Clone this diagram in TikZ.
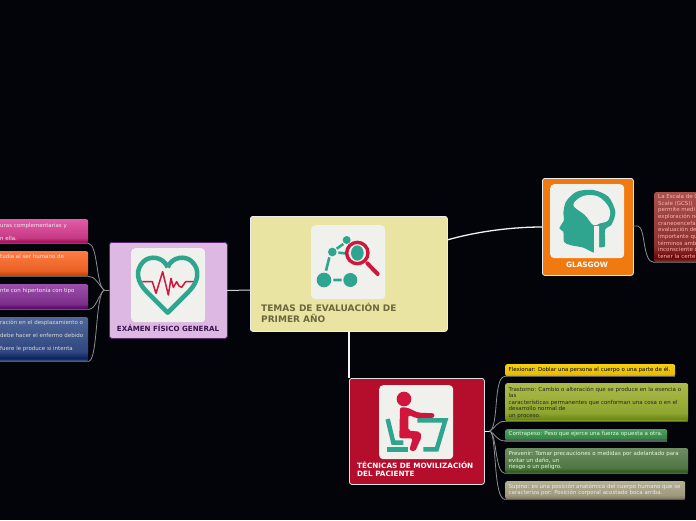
\documentclass[tikz,border=0pt]{standalone}
\usepackage{fontspec}
\setmainfont{DejaVu Sans}
\definecolor{bgc}{HTML}{030409}
\definecolor{teal1}{HTML}{2FA58F}
\definecolor{red1}{HTML}{D0163C}
\definecolor{iconbg}{HTML}{F0F0EC}
\definecolor{wire}{HTML}{8E8E8E}
\definecolor{rulec}{HTML}{5C5C5C}
\definecolor{cfill}{HTML}{E9E4A1}
\definecolor{gfill}{HTML}{F07A0F}
\definecolor{tfill}{HTML}{B50D2C}
\definecolor{efill}{HTML}{DCB8E3}
\definecolor{edraw}{HTML}{5A286E}
\definecolor{ctext}{HTML}{6B6840}
\definecolor{etext}{HTML}{3A1450}
\newcommand\mkshade[4]{%
  \pgfdeclareverticalshading{#1}{100bp}{color(0bp)=(#4); color(25bp)=(#4); color(28bp)=(#3); color(36bp)=(#2!55!#3); color(75bp)=(#2); color(100bp)=(#2)}}
\definecolor{pa}{HTML}{E25CA6}\definecolor{pb}{HTML}{A3105C}\definecolor{pc}{HTML}{C9458F}
\definecolor{oa}{HTML}{FF7C42}\definecolor{ob}{HTML}{CF4000}\definecolor{oc}{HTML}{E9692E}
\definecolor{ua}{HTML}{9C4FAB}\definecolor{ub}{HTML}{5A0868}\definecolor{uc}{HTML}{7A2E88}
\definecolor{ba}{HTML}{50679A}\definecolor{bb}{HTML}{0A205F}\definecolor{bc}{HTML}{5A6C8C}
\definecolor{ya}{HTML}{F5CF10}\definecolor{yb}{HTML}{D8A800}\definecolor{yc}{HTML}{E8C428}
\definecolor{ga}{HTML}{ACBC48}\definecolor{gb}{HTML}{6C8A14}\definecolor{gc}{HTML}{98AC40}
\definecolor{ca}{HTML}{4F9F60}\definecolor{cb}{HTML}{146C2C}\definecolor{cc}{HTML}{3E8A50}
\definecolor{ra}{HTML}{6F8C62}\definecolor{rb}{HTML}{2C5A1E}\definecolor{rc}{HTML}{5B7C50}
\definecolor{sa}{HTML}{B5AF95}\definecolor{sb}{HTML}{847D62}\definecolor{sc}{HTML}{A09A80}
\definecolor{da}{HTML}{A8524E}\definecolor{db}{HTML}{6A0606}\definecolor{dc}{HTML}{8A3E3A}
\mkshade{spink}{pa}{pb}{pc}\mkshade{sorange}{oa}{ob}{oc}\mkshade{spurple}{ua}{ub}{uc}
\mkshade{sblue}{ba}{bb}{bc}\mkshade{syellow}{ya}{yb}{yc}\mkshade{sgreen}{ga}{gb}{gc}
\mkshade{scontra}{ca}{cb}{cc}\mkshade{sprev}{ra}{rb}{rc}\mkshade{ssup}{sa}{sb}{sc}
\mkshade{sdark}{da}{db}{dc}
\newcommand\cbox[4]{\parbox[c][#2pt][t]{#1pt}{\vspace*{#3pt}\raggedright #4}}
\tikzset{
  x=1pt,y=-1pt,
  mainbox/.style={draw=#1,line width=.8pt,rounded corners=2.5pt,anchor=north west,inner sep=0pt},
  iconbox/.style={fill=iconbg,rounded corners=4pt,anchor=north west,minimum width=74pt,minimum height=74pt,inner sep=0pt},
  title/.style={font=\fontsize{7.1}{9}\selectfont\bfseries,inner sep=0pt},
  leaf/.style={shading=#1,draw=none,rounded corners=2pt,anchor=north west,inner ysep=0pt,inner xsep=3.5pt,
     font=\fontsize{5.5}{6.5}\selectfont},
  lfar/.style={shading=#1,draw=none,rounded corners=2pt,anchor=north west,inner ysep=0pt,inner xsep=3pt,
     font=\fontsize{5.5}{13}\selectfont,text=white!85!gray},
  wirel/.style={draw=wire,line width=.8pt,line cap=round},
  rulel/.style={draw=rulec,line width=1.2pt},
  trunk/.style={draw=white!90!gray,line width=1.3pt},
}
\begin{document}
\begin{tikzpicture}
\useasboundingbox (0,0) rectangle (696,520);
\fill[bgc] (0,0) rectangle (696,520);
\clip (0,0) rectangle (696,520);

% main boxes
\node[mainbox=white!85!gray,fill=cfill,minimum width=197pt,minimum height=115pt] (central) at (250,216) {};
\node[mainbox=white!85!gray,fill=gfill,minimum width=91pt,minimum height=97pt] (glasgow) at (542,178) {};
\node[mainbox=white!75!gray,fill=tfill,minimum width=135pt,minimum height=106pt] (tecnicas) at (349,378) {};
\node[mainbox=edraw,fill=efill,minimum width=118pt,minimum height=96pt] (examen) at (109,242) {};

% left leaves
\node[lfar=spink] (l1) at (-3,219) {\cbox{85}{24}{4}{uras complementarias y\\n ella.}};
\node[lfar=sorange] (l2) at (-3,251) {\cbox{85}{25}{3.5}{tudia al ser humano de}};
\node[lfar=spurple] (l3) at (-3,284) {\cbox{85}{25}{3.5}{nte con hipertonía con tipo}};
\node[lfar=sblue,text=white!70!gray] (l4) at (-3,317) {\cbox{85}{44}{3}{ración en el desplazamiento o\\ debe hacer el enfermo debido\\ fuere le produce si intenta}};

% right leaves
\node[leaf=syellow,text=black] (r1) at (505,364) {\cbox{163}{12}{2.8}{Flexionar: Doblar una persona el cuerpo o una parte de él.}};
\node[leaf=sgreen,text=black!85] (r2) at (505,383) {\cbox{176}{38}{3.8}{Trastorno: Cambio o alteración que se produce en la esencia o\\las\\características permanentes que conforman una cosa o en el\\desarrollo normal de\\un proceso.}};
\node[leaf=scontra,text=white!85!green] (r3) at (505,429) {\cbox{155}{11.5}{2.4}{Contrapeso: Peso que ejerce una fuerza opuesta a otra.}};
\node[leaf=sprev,text=white!85!green] (r4) at (505,448) {\cbox{176}{25}{3.4}{Prevenir: Tomar precauciones o medidas por adelantado para\\evitar un daño, un\\riesgo o un peligro.}};
\node[leaf=ssup,text=white!85!gray] (r5) at (505,481) {\cbox{173}{18}{2.8}{Supino: es una posición anatómica del cuerpo humano que se\\caracteriza por: Posición corporal acostado boca arriba.}};

% Glasgow leaf
\node[leaf=sdark,text=white!70!red,inner xsep=4pt,font=\fontsize{5.5}{6.67}\selectfont] (g1) at (654,192) {\cbox{60}{70}{2}{La Escala de G\\Scale (GCS))\\permite medi\\exploración ne\\craneoencefáli\\evaluación de\\importante qu\\términos amb\\inconsciente c\\tener la certe}};

% bottom rules of the leaves
\draw[rulel] (l1.south west) -- (l1.south east);
\draw[rulel] (l2.south west) -- (l2.south east);
\draw[rulel] (l3.south west) -- (l3.south east);
\draw[rulel] (l4.south west) -- (l4.south east);
\draw[rulel] (r1.south west) -- (r1.south east);
\draw[rulel] (r2.south west) -- (r2.south east);
\draw[rulel] (r3.south west) -- (r3.south east);
\draw[rulel] (r4.south west) -- (r4.south east);
\draw[rulel] (r5.south west) -- (r5.south east);
\draw[rulel] (g1.south west) -- (g1.south east);

% trunk connectors
\coordinate (cL) at (250,290);
\coordinate (eR) at (227,290.5);
\draw[line width=1pt,draw=white!65!gray] (cL) -- (eR);
\coordinate (cR) at (447,240);
\coordinate (gL) at (542,227);
\draw[trunk] (cR) .. controls (475,232) and (510,227) .. (gL);
\coordinate (cB) at (349,331);
\coordinate (tT) at (349,378);
\draw[trunk] (cB) -- (tT);
\coordinate (gR) at (633,226);
\coordinate (gJ) at (638,226);
\draw[wirel] (gR) -- (gJ) .. controls (646,228) and (642,262) .. (g1.south west);

% examen fan-out
\coordinate (eL) at (109,290);
\coordinate (eJ) at (104,290);
\draw[wirel] (eL) -- (eJ);
\draw[wirel] (eJ) .. controls (96,285) and (98,244) .. (l1.south east);
\draw[wirel] (eJ) .. controls (98,284) and (95,276) .. (l2.south east);
\draw[wirel] (eJ) .. controls (98,296) and (96,309) .. (l3.south east);
\draw[wirel] (eJ) .. controls (95,296) and (98,361) .. (l4.south east);

% tecnicas fan-out
\coordinate (tR) at (484,431);
\coordinate (tJ) at (490,431);
\draw[line width=1pt,draw=white!85!gray] (tR) -- (tJ);
\draw[wirel] (tJ) .. controls (499,425) and (493,377) .. (r1.south west);
\draw[wirel] (tJ) .. controls (495,428) and (497,421) .. (r2.south west);
\draw[wirel] (tJ) .. controls (495,434) and (497,441) .. (r3.south west);
\draw[wirel] (tJ) .. controls (497,436) and (495,473) .. (r4.south west);
\draw[wirel] (tJ) .. controls (497,436) and (493,499) .. (r5.south west);

% icon backgrounds
\node[iconbox] (icentral) at (311,225) {};
\node[iconbox] (iexamen) at (131,248) {};
\node[iconbox] (iglasgow) at (550,184) {};
\node[iconbox] (itecnicas) at (379,385) {};

% titles
\node[title,text=ctext,anchor=north west,align=left,font=\fontsize{9}{11}\selectfont\bfseries] (tc) at (261,302.5) {TEMAS DE EVALUACIÓN DE\\PRIMER AÑO};
\node[title,text=etext] (te) at (168,328) {EXÁMEN FÍSICO GENERAL};
\node[title,text=white,font=\fontsize{7.3}{9}\selectfont\bfseries] (tg) at (587,264.5) {GLASGOW};
\node[title,text=white,anchor=north west,align=left,font=\fontsize{7.25}{8.4}\selectfont\bfseries] (tt) at (357,461.5) {TÉCNICAS DE MOVILIZACIÓN\\DEL PACIENTE};

% heart icon (coordinates in zoom pixels)
\begin{scope}[shift={(0,210)},x=.33333pt,y=-.33333pt]
\draw[teal1,line width=4.5pt,line join=round] (503,172) .. controls (490,140) and (450,135) .. (430,155) .. controls (405,180) and (410,215) .. (440,245) -- (503,308) -- (566,245) .. controls (596,215) and (601,180) .. (576,155) .. controls (556,135) and (516,140) .. (503,172);
\draw[red1,line width=1.5pt,line join=round] (427,215) -- (457,215) -- (468,250) -- (488,185) -- (505,255) -- (513,205) -- (520,232) -- (530,215) -- (537,228) -- (545,232) -- (557,215) -- (580,215);
\end{scope}

% network icon
\begin{scope}[shift={(240,170)},x=.33333pt,y=-.33333pt]
\fill[teal1] (252,330) circle[radius=22] (331,330) circle[radius=21] (277,246) circle[radius=13] (320,210) circle[radius=12];
\draw[teal1,line width=2.6pt] (268,262) -- (258,302) (280,330) -- (305,330) (290,236) -- (310,222) (295,248) -- (315,250);
\fill[teal1] (352,249) ellipse[x radius=19,y radius=23];
\draw[red1,line width=3.4pt] (352,249) circle[radius=32];
\draw[red1,line width=4pt,line cap=round] (382,280) -- (413,312);
\end{scope}

% head icon
\begin{scope}[shift={(530,170)},x=.33333pt,y=-.33333pt]
\fill[teal1] plot[smooth cycle,tension=.5] coordinates {(207,232) (225,228) (225,180) (245,163) (256,125) (235,80) (190,60) (140,65) (108,95) (100,130) (102,150) (88,175) (100,185) (102,215) (120,225) (160,233) (193,248)};
\fill[iconbg] plot[smooth cycle,tension=.6] coordinates {(130,105) (160,78) (205,80) (238,115) (235,150) (210,160) (190,165) (165,135)};
\fill[iconbg] (192,168) -- (207,168) -- (207,236) -- (192,252) -- cycle;
\end{scope}

% desk icon
\begin{scope}[shift={(340,370)},x=.33333pt,y=-.33333pt]
\draw[teal1,line width=4.5pt,line join=miter] (143,147) -- (160,218) -- (190,218);
\draw[teal1,line width=4.5pt] (142,238) -- (203,238);
\draw[teal1,line width=4.5pt,line join=miter] (232,151) -- (316,151) -- (290,238) -- (250,238);
\fill[red1] (192,87) circle[radius=22];
\fill[red1,rounded corners=2pt] (180,112) -- (200,112) -- (235,128) -- (283,130) -- (283,143) -- (232,145) -- (205,135) -- (205,182) -- (240,185) -- (245,200) -- (225,245) -- (208,240) -- (218,205) -- (178,205) -- cycle;
\end{scope}
\end{tikzpicture}
\end{document}
